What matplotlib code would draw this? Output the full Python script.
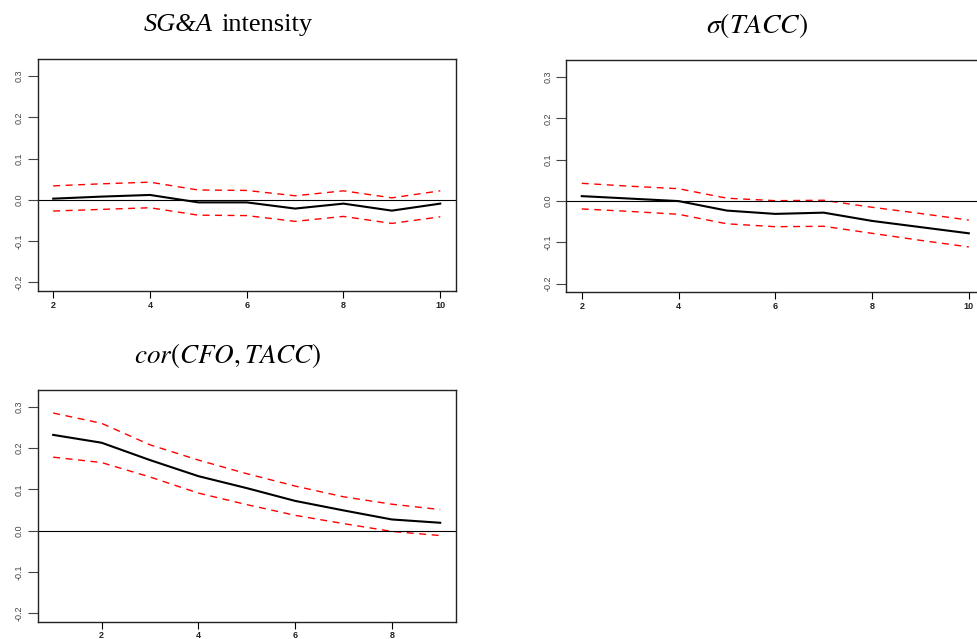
import numpy as np
import matplotlib
matplotlib.use("Agg")
import matplotlib.pyplot as plt

plt.rcParams["mathtext.fontset"] = "stix"
plt.rcParams["font.family"] = "Liberation Sans"

# horizons
x_sga = [2, 3, 4, 5, 6, 7, 8, 9, 10]
x_sig = [2, 3, 4, 5, 6, 7, 8, 9, 10]
x_cor = [1, 2, 3, 4, 5, 6, 7, 8, 9]

# SG&A intensity
sga_est = [0.003, 0.008, 0.012, -0.006, -0.006, -0.021, -0.009, -0.026, -0.009]
sga_hi = [0.034, 0.039, 0.043, 0.024, 0.023, 0.010, 0.022, 0.005, 0.022]
sga_lo = [-0.027, -0.023, -0.019, -0.037, -0.038, -0.052, -0.040, -0.057, -0.041]

# sigma(TACC)
sig_est = [0.012, 0.006, 0.000, -0.023, -0.031, -0.028, -0.048, -0.063, -0.078]
sig_hi = [0.043, 0.036, 0.030, 0.007, 0.001, 0.002, -0.015, -0.030, -0.046]
sig_lo = [-0.019, -0.025, -0.032, -0.055, -0.062, -0.061, -0.078, -0.095, -0.111]

# cor(CFO, TACC)
cor_est = [0.232, 0.213, 0.171, 0.132, 0.103, 0.072, 0.049, 0.027, 0.019]
cor_hi = [0.285, 0.260, 0.208, 0.171, 0.138, 0.108, 0.082, 0.064, 0.051]
cor_lo = [0.178, 0.165, 0.130, 0.091, 0.063, 0.037, 0.017, -0.002, -0.012]

yticks = [-0.2, -0.1, 0.0, 0.1, 0.2, 0.3]
ylabels = ["-0.2", "-0.1", "0.0", "0.1", "0.2", "0.3"]

W, H = 977, 639
fig = plt.figure(figsize=(W / 100, H / 100), dpi=100)


def panel(rect, x, est, hi, lo, xticks):
    l, t, r, b = rect
    ax = fig.add_axes([l / W, 1 - b / H, (r - l) / W, (b - t) / H])
    ax.plot(x, est, color="black", lw=1.5)
    ax.plot(x, hi, color="red", lw=1.0, ls=(0, (5, 4)))
    ax.plot(x, lo, color="red", lw=1.0, ls=(0, (5, 4)))
    ax.axhline(0, color="black", lw=0.8)
    span = x[-1] - x[0]
    ax.set_xlim(x[0] - 0.04 * span, x[-1] + 0.04 * span)
    ax.set_ylim(-0.2208, 0.3408)
    ax.set_yticks(yticks)
    ax.set_yticklabels(ylabels, rotation=90, va="center", fontsize=6.5, color="#444444")
    ax.set_xticks(xticks)
    ax.set_xticklabels([str(v) for v in xticks], fontsize=6.5, fontweight="bold", color="#222222")
    ax.tick_params(axis="y", length=7, width=0.8, pad=3, color="#444444")
    ax.tick_params(axis="x", length=5, width=0.8, pad=2)
    for s in ax.spines.values():
        s.set_linewidth(1.0)
        s.set_color("#222222")
    return ax


panel((37.7, 59.3, 455.7, 291.0), x_sga, sga_est, sga_hi, sga_lo, [2, 4, 6, 8, 10])
panel((566.3, 60.3, 984.3, 292.3), x_sig, sig_est, sig_hi, sig_lo, [2, 4, 6, 8, 10])
panel((37.7, 390.0, 455.7, 621.7), x_cor, cor_est, cor_hi, cor_lo, [2, 4, 6, 8])

tkw = dict(va="center", family="Liberation Serif")
fig.text(213 / W, 1 - 25 / H, "SG&A", ha="right", style="italic", fontsize=19, **tkw)
fig.text(221 / W, 1 - 25 / H, "intensity", ha="left", fontsize=19, **tkw)
fig.text(757 / W, 1 - 26 / H, r"$\sigma(TACC)$", ha="center", fontsize=20, **tkw)
fig.text(227.5 / W, 1 - 355 / H, r"$cor(CFO,TACC)$", ha="center", fontsize=19.5, **tkw)

fig.savefig("out.png", dpi=100)
